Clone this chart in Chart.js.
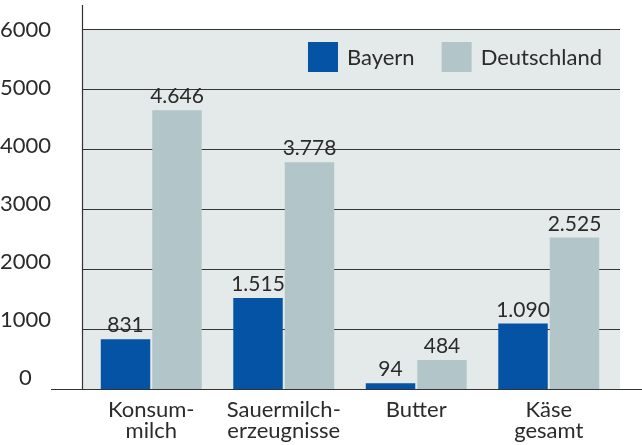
<!DOCTYPE html>
<html><head><meta charset="utf-8">
<script src="https://cdn.jsdelivr.net/npm/chart.js@4.4.1/dist/chart.umd.min.js"></script>
<style>html,body{margin:0;padding:0;background:#fff;}</style>
</head><body>
<canvas id="c" width="642" height="445" style="display:block;width:642px;height:445px"></canvas>
<script>
const categories = [['Konsum-','milch'],['Sauermilch-','erzeugnisse'],['Butter'],['Käse','gesamt']];
const seriesNames = ['Bayern','Deutschland'];
const bayern = [831,1515,94,1090];
const deutschland = [4646,3778,484,2525];
const yTicks = [0,1000,2000,3000,4000,5000,6000];
const seriesColors = ['#0453a4','#b2c5c9'];

const FONT = 'Lato, "Noto Sans", sans-serif';
const TEXT = '#2b2b2b';
const LINE = '#333333';

function fmtDE(v){ return String(v).replace(/\B(?=(\d{3})+(?!\d))/g,'.'); }

const decorPlugin = {
  id:'decor',
  beforeDatasetsDraw(chart){
    const {ctx, chartArea:a} = chart; const y = chart.scales.y;
    const L = a.left - 3, R = a.right + 5;
    ctx.save();
    ctx.fillStyle = '#e4eaea';
    const top = y.getPixelForValue(yTicks[yTicks.length-1]), bot = y.getPixelForValue(0);
    ctx.fillRect(L, top, R-L, bot-top);
    ctx.strokeStyle = LINE; ctx.lineWidth = 1;
    yTicks.forEach(v=>{ if(v===0) return; const py = Math.round(y.getPixelForValue(v))+0.5;
      ctx.beginPath(); ctx.moveTo(L,py); ctx.lineTo(R,py); ctx.stroke(); });
    ctx.restore();
  },
  afterDatasetsDraw(chart){
    const {ctx, chartArea:a} = chart; const y = chart.scales.y;
    const L = a.left - 3;
    ctx.save();
    ctx.strokeStyle = LINE; ctx.lineWidth = 1.2;
    const bot = Math.round(y.getPixelForValue(0))+0.5;
    ctx.beginPath(); ctx.moveTo(Math.round(L)+0.5, a.top); ctx.lineTo(Math.round(L)+0.5, bot); ctx.stroke();
    ctx.beginPath(); ctx.moveTo(L-31, bot); ctx.lineTo(chart.width, bot); ctx.stroke();
    // value labels
    ctx.fillStyle = TEXT; ctx.font = '21px ' + FONT; ctx.textAlign = 'center'; ctx.textBaseline = 'alphabetic';
    chart.data.datasets.forEach((ds,i)=>{
      chart.getDatasetMeta(i).data.forEach((bar,j)=>{
        ctx.fillText(fmtDE(ds.data[j]), bar.x, bar.y - 7);
      });
    });
    // legend
    ctx.font = '22px ' + FONT; ctx.textAlign = 'left'; ctx.textBaseline = 'middle';
    const box = 30, gapT = 9, gapI = 27;
    const widths = chart.data.datasets.map(d=>ctx.measureText(d.label).width);
    let total = widths.reduce((s,w)=>s+box+gapT+w,0) + gapI*(widths.length-1);
    let x = a.right - 13 - total; const ty = a.top + 37;
    chart.data.datasets.forEach((d,i)=>{
      ctx.fillStyle = d.backgroundColor; ctx.fillRect(x, ty, box, box);
      ctx.fillStyle = TEXT; ctx.fillText(d.label, x+box+gapT, ty+box/2+1);
      x += box+gapT+widths[i]+gapI;
    });
    ctx.restore();
  }
};

new Chart(document.getElementById('c'), {
  type:'bar',
  data:{ labels: categories, datasets:[
    {label: seriesNames[0], data: bayern, backgroundColor: seriesColors[0], yAxisID:'y'},
    {label: seriesNames[1], data: deutschland, backgroundColor: seriesColors[1], yAxisID:'y'}
  ]},
  options:{
    responsive:false, animation:false, devicePixelRatio:1,
    layout:{padding:{top:5,right:27,bottom:2,left:0}},
    datasets:{bar:{categoryPercentage:0.777, barPercentage:0.961, borderWidth:0}},
    plugins:{legend:{display:false}, tooltip:{enabled:false}},
    scales:{
      x:{ grid:{display:false, drawTicks:false}, border:{display:false},
          afterFit: s => { s.height = 54; s.paddingLeft = 0; s.paddingRight = 0; },
          ticks:{color:TEXT, font:{family:FONT,size:22,lineHeight:0.955}, padding:10, maxRotation:0, autoSkip:false}},
      y:{ display:false, min:0, max:6400 },
      yl:{ position:'left', min:-190, max:6431, grid:{display:false, drawTicks:false}, border:{display:false},
           afterBuildTicks: s => { s.ticks = yTicks.map(v=>({value:v})); },
           afterFit: s => { s.width = 85; s.paddingTop = 0; s.paddingBottom = 0; },
           ticks:{color:TEXT, font:{family:FONT,size:22}, crossAlign:'center', padding:34, callback: v => String(v)} }
    }
  },
  plugins:[decorPlugin]
});
</script>
</body></html>
